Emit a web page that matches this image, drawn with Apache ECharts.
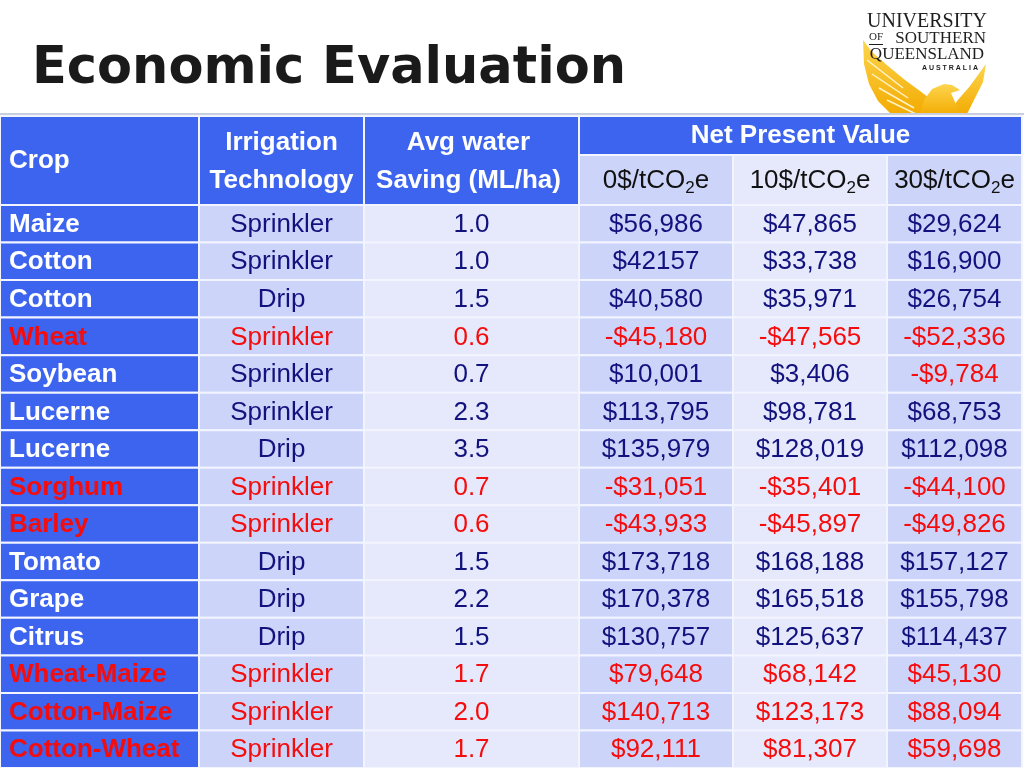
<!DOCTYPE html>
<html>
<head>
<meta charset="utf-8">
<script src="https://cdn.jsdelivr.net/npm/echarts@6/dist/echarts.min.js"></script>
<style>html,body{margin:0;padding:0;background:#fff;}#chart{width:1024px;height:768px;}</style>
</head>
<body>
<div id="chart"></div>
<script>
// ---------------- data ----------------
const crops = ['Maize','Cotton','Cotton','Wheat','Soybean','Lucerne','Lucerne','Sorghum','Barley','Tomato','Grape','Citrus','Wheat-Maize','Cotton-Maize','Cotton-Wheat'];
const technology = ['Sprinkler','Sprinkler','Drip','Sprinkler','Sprinkler','Sprinkler','Drip','Sprinkler','Sprinkler','Drip','Drip','Drip','Sprinkler','Sprinkler','Sprinkler'];
const waterSaving = [1.0,1.0,1.5,0.6,0.7,2.3,3.5,0.7,0.6,1.5,2.2,1.5,1.7,2.0,1.7];
const npv0 = [56986,42157,40580,-45180,10001,113795,135979,-31051,-43933,173718,170378,130757,79648,140713,92111];
const npv10 = [47865,33738,35971,-47565,3406,98781,128019,-35401,-45897,168188,165518,125637,68142,123173,81307];
const npv30 = [29624,16900,26754,-52336,-9784,68753,112098,-44100,-49826,157127,155798,114437,45130,88094,59698];
const highlightedRows = [false,false,false,true,false,false,false,true,true,false,false,false,true,true,true];
const noCommaCells = [[1,'npv0']]; // "$42157" is printed without a thousands separator
const headerMain = ['Crop',['Irrigation','Technology'],['Avg water','Saving (ML/ha)'],'Net Present Value'];
const carbonPrices = ['0','10','30'];

// ---------------- layout / style ----------------
const colEdges = [0,199,364,579,733,887,1022];
const headTop = 116, headMid = 155, bodyTop = 205, rowH = 38;
const BLUE = '#3d64ef', DARK = '#cdd4f9', LIGHT = '#e6e9fb';
const NAVY = '#12127e', RED = '#f50c0c';
const FONT = "'Liberation Sans', Arial, sans-serif";

function fmtMoney(v, plain){
  const a = Math.abs(v);
  const s = plain ? String(a) : a.toLocaleString('en-US');
  return (v < 0 ? '-$' : '$') + s;
}
const isPlain = (r, key) => noCommaCells.some(c => c[0] === r && c[1] === key);

const columns = [
  {key:'crop', fill: BLUE, align:'left', bold:true, label:(r)=>crops[r], color:(r)=>highlightedRows[r]?RED:'#ffffff'},
  {key:'tech', fill: DARK, align:'center', label:(r)=>technology[r], color:(r)=>highlightedRows[r]?RED:NAVY},
  {key:'water', fill: LIGHT, align:'center', label:(r)=>waterSaving[r].toFixed(1), color:(r)=>highlightedRows[r]?RED:NAVY},
  {key:'npv0', fill: DARK, align:'center', label:(r)=>fmtMoney(npv0[r], isPlain(r,'npv0')), color:(r)=>(highlightedRows[r]||npv0[r]<0)?RED:NAVY},
  {key:'npv10', fill: LIGHT, align:'center', label:(r)=>fmtMoney(npv10[r], isPlain(r,'npv10')), color:(r)=>(highlightedRows[r]||npv10[r]<0)?RED:NAVY},
  {key:'npv30', fill: DARK, align:'center', label:(r)=>fmtMoney(npv30[r], isPlain(r,'npv30')), color:(r)=>(highlightedRows[r]||npv30[r]<0)?RED:NAVY}
];

const rowCats = crops.map((c,i)=>String(i));
const grids = [], xAxes = [], yAxes = [], series = [];
columns.forEach((col, ci) => {
  grids.push({left: colEdges[ci], width: colEdges[ci+1]-colEdges[ci], top: bodyTop, height: rowH*crops.length, containLabel:false});
  xAxes.push({type:'category', gridIndex:ci, data:['c'], show:false});
  yAxes.push({type:'category', gridIndex:ci, data:rowCats, inverse:true, show:false});
  series.push({
    type:'custom', xAxisIndex:ci, yAxisIndex:ci, clip:false, silent:true,
    data: crops.map((c, r) => [0, r]),
    renderItem(params, api){
      const r = api.value(1);
      const p = api.coord([0, r]);
      const sz = api.size([1, 1]);
      const x0 = p[0]-sz[0]/2, y0 = p[1]-sz[1]/2;
      return {type:'group', children:[
        {type:'rect', shape:{x:x0, y:y0, width:sz[0], height:sz[1]}, style:{fill: col.fill, stroke:'#f2f4ff', lineWidth:2}},
        {type:'text', style:{
          text: col.label(r), x: col.align==='left' ? x0+9 : p[0], y: p[1]+1,
          align: col.align, verticalAlign:'middle',
          font: (col.bold?'bold ':'') + '26px ' + FONT, fill: col.color(r)
        }}
      ]};
    }
  });
});

// ---------------- header + title + logo ----------------
const g = [];
// logo: phoenix (behind the table top line)
const gold = {type:'linear', x:0, y:0, x2:0, y2:1, colorStops:[{offset:0, color:'#fcd54e'},{offset:1, color:'#f3aa00'}]};
g.push({type:'polygon', shape:{points:[[863,40],[872,52],[888,66],[905,80],[920,91],[932,100],[942,116],[893,116],[878,101],[869,84],[864,64]]}, style:{fill:gold}});
g.push({type:'polygon', shape:{points:[[986,64],[983,82],[975,98],[966,116],[948,116],[957,101],[970,86]]}, style:{fill:gold}});
g.push({type:'polygon', shape:{points:[[924,100],[932,89],[944,84],[952,85],[960,90],[951,93],[955,102],[962,116],[920,116]]}, style:{fill:gold}});
[[867,60,903,88],[872,74,908,98],[879,88,914,108],[887,100,918,115]].forEach(l=>{
  g.push({type:'line', shape:{x1:l[0],y1:l[1],x2:l[2],y2:l[3]}, style:{stroke:'#fff3c8', lineWidth:1.5}});
});
g.push({type:'rect', shape:{x:0,y:113,width:1024,height:2}, style:{fill:'#c9cfdf'}});
// header cells
for (let ci=0; ci<3; ci++){
  g.push({type:'rect', shape:{x:colEdges[ci], y:headTop, width:colEdges[ci+1]-colEdges[ci], height:bodyTop-headTop}, style:{fill:BLUE, stroke:'#f2f4ff', lineWidth:2}});
}
g.push({type:'rect', shape:{x:colEdges[3], y:headTop, width:colEdges[6]-colEdges[3], height:headMid-headTop}, style:{fill:BLUE, stroke:'#f2f4ff', lineWidth:2}});
for (let k=0; k<3; k++){
  const ci = 3+k;
  g.push({type:'rect', shape:{x:colEdges[ci], y:headMid, width:colEdges[ci+1]-colEdges[ci], height:bodyTop-headMid}, style:{fill:columns[ci].fill, stroke:'#f2f4ff', lineWidth:2}});
  g.push({type:'text', style:{
    text: carbonPrices[k] + '$/tCO{sub|2}e', x:(colEdges[ci]+colEdges[ci+1])/2, y:181, align:'center', verticalAlign:'middle',
    font:'26px ' + FONT, fill:'#111111',
    rich:{sub:{font:'17px ' + FONT, fill:'#111111', padding:[14,0,0,0]}}
  }});
}
const hfont = 'bold 26px ' + FONT;
g.push({type:'text', style:{text:headerMain[0], x:9, y:161, align:'left', verticalAlign:'middle', font:hfont, fill:'#fff'}});
[1,2].forEach(ci=>{
  const cx = (colEdges[ci]+colEdges[ci+1])/2 - (ci===2?3:0);
  g.push({type:'text', style:{text:headerMain[ci][0], x:cx, y:143, align:'center', verticalAlign:'middle', font:hfont, fill:'#fff'}});
  g.push({type:'text', style:{text:headerMain[ci][1], x:cx, y:181, align:'center', verticalAlign:'middle', font:hfont, fill:'#fff'}});
});
g.push({type:'text', style:{text:headerMain[3], x:(colEdges[3]+colEdges[6])/2, y:136, align:'center', verticalAlign:'middle', font:hfont, fill:'#fff'}});

// title
g.push({type:'text', style:{text:'Economic Evaluation', x:32, y:70, align:'left', verticalAlign:'middle', font:"bold 51px 'DejaVu Sans', Verdana, sans-serif", fill:'#1a1a1a'}});

// logo: text
const serif = "'Liberation Serif', 'DejaVu Serif', serif";
g.push({type:'text', style:{text:'UNIVERSITY', x:927, y:22, align:'center', verticalAlign:'middle', font:'20px ' + serif, fill:'#1e1e1e'}});
g.push({type:'text', style:{text:'OF', x:869, y:37, align:'left', verticalAlign:'middle', font:'11px ' + serif, fill:'#1e1e1e'}});
g.push({type:'rect', shape:{x:869,y:44,width:14,height:1}, style:{fill:'#1e1e1e'}});
g.push({type:'text', style:{text:'SOUTHERN', x:986, y:39, align:'right', verticalAlign:'middle', font:'17px ' + serif, fill:'#1e1e1e'}});
g.push({type:'text', style:{text:'QUEENSLAND', x:927, y:55, align:'center', verticalAlign:'middle', font:'17px ' + serif, fill:'#1e1e1e'}});
g.push({type:'text', style:{text:'A U S T R A L I A', x:978, y:68, align:'right', verticalAlign:'middle', font:'bold 7px ' + FONT, fill:'#1e1e1e'}});

const chart = echarts.init(document.getElementById('chart'), null, {renderer:'canvas'});
chart.setOption({
  animation:false,
  backgroundColor:'#ffffff',
  grid: grids, xAxis: xAxes, yAxis: yAxes, series: series,
  graphic: {elements: g}
});
</script>
</body>
</html>
